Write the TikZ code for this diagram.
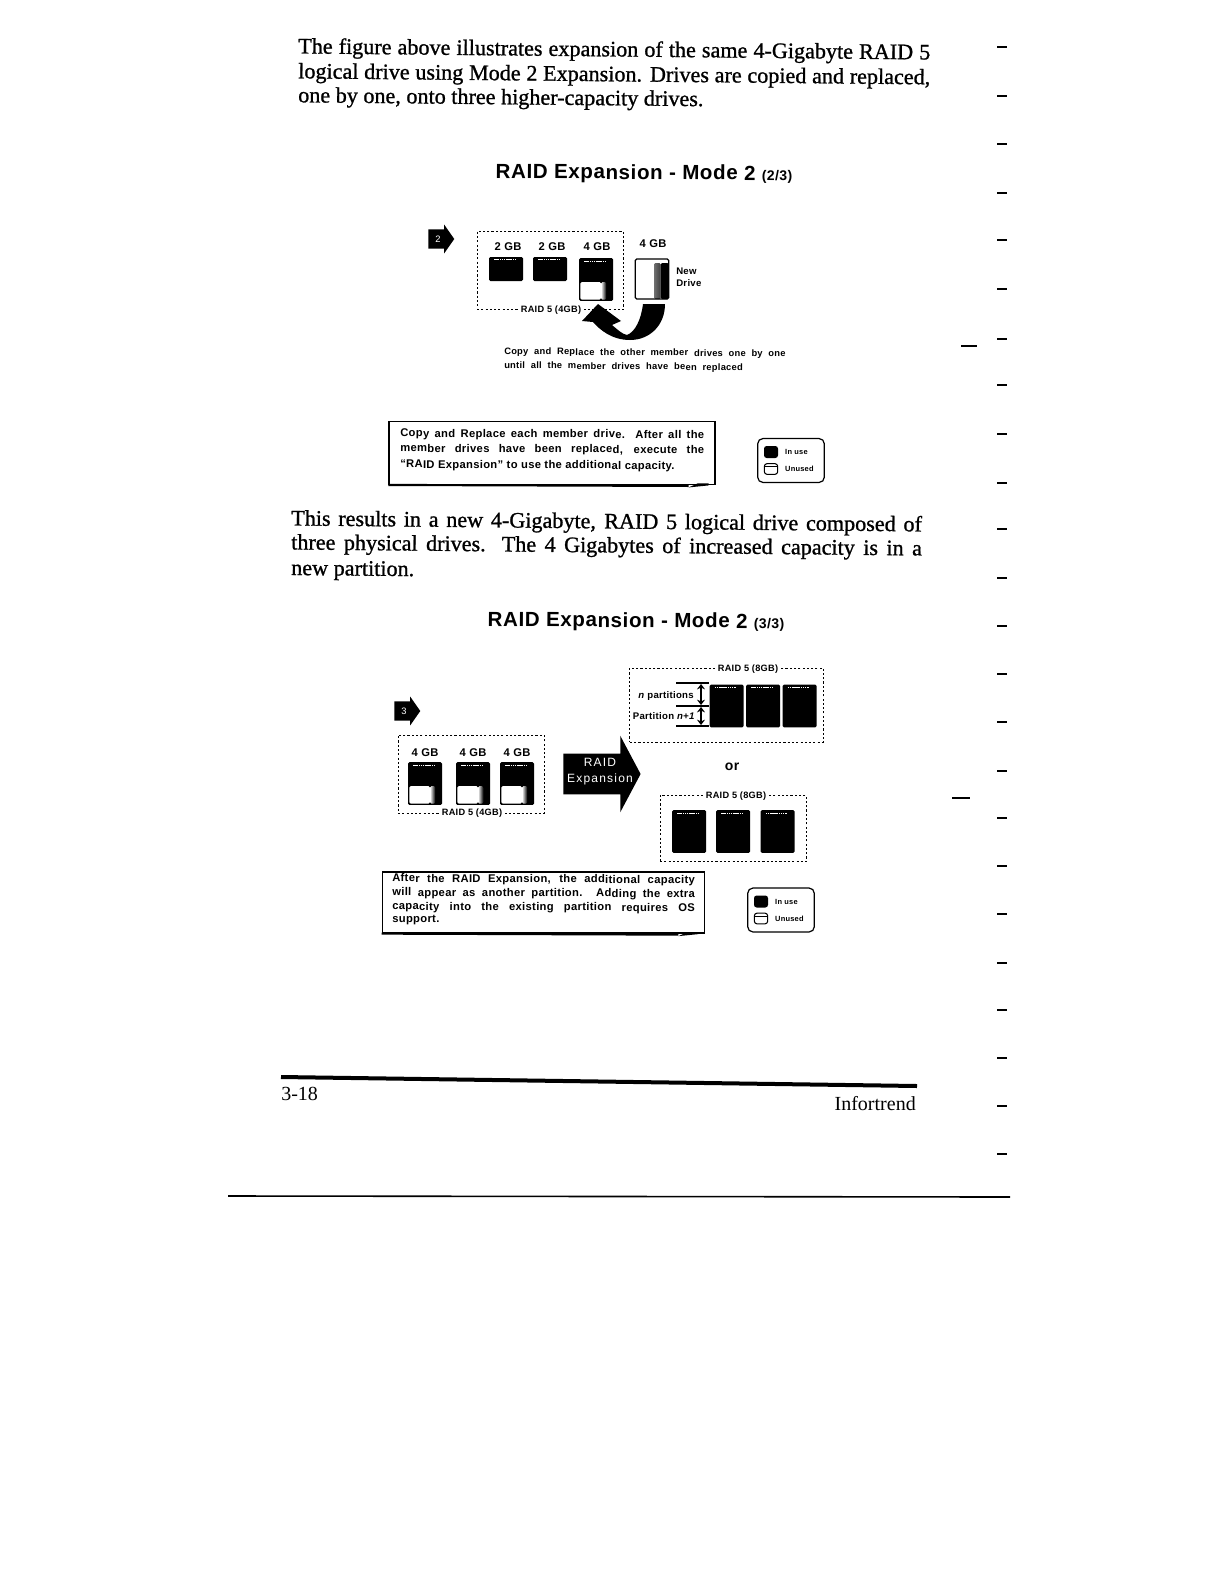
\documentclass[tikz,border=0pt]{standalone}
\usepackage{fontspec}
\setmainfont{Liberation Serif}
\setsansfont[LetterSpace=3]{Liberation Sans}
\newfontfamily\scanfont[FakeBold=1]{Liberation Serif}
\newfontfamily\widefont[LetterSpace=10]{Liberation Sans}
\usetikzlibrary{positioning, arrows.meta, shapes.arrows, calc}

\begin{document}
\begin{tikzpicture}[
    x=0.75pt, y=-0.75pt,
    bodyline/.style={anchor=west, inner sep=0pt, rotate=-0.55, font=\fontsize{16.6}{18}\scanfont},
    title/.style={anchor=center, inner sep=0pt, rotate=-0.4, font=\fontsize{15.4}{16}\sffamily\bfseries},
    foot/.style={inner sep=0pt, font=\fontsize{15}{16}\selectfont},
    raidbox/.style={rectangle, draw=black, line width=0.7pt, dash pattern=on 1.6pt off 1.6pt, inner sep=0pt},
    raidlabel/.style={fill=white, inner sep=2pt, font=\fontsize{6.9}{7}\sffamily\bfseries},
    gblabel/.style={inner sep=0pt, font=\fontsize{8.4}{9}\sffamily\bfseries},
    caption/.style={anchor=west, inner sep=0pt, rotate=-0.5, font=\fontsize{7}{7}\sffamily\bfseries},
    boxline/.style={anchor=west, inner sep=0pt, rotate=-0.3, font=\fontsize{8.4}{8}\sffamily\bfseries},
    callout/.style={rectangle, draw=black, line width=0.9pt, inner sep=0pt},
    legendbox/.style={rectangle, draw=black, line width=0.9pt, rounded corners=4pt, inner sep=0pt, minimum width=50pt, minimum height=33pt},
    legendtext/.style={anchor=west, inner sep=0pt, font=\fontsize{5.6}{6}\sffamily\bfseries},
    disksmall/.style={rectangle, fill=black, rounded corners=1pt, inner sep=0pt, minimum width=25.5pt, minimum height=18pt,
        path picture={\draw[white, line width=0.3pt, dash pattern=on 1pt off 0.4pt] ([xshift=4pt,yshift=-2pt]path picture bounding box.north west) -- ([xshift=-6pt,yshift=-2pt]path picture bounding box.north east);}},
    disktall/.style={disksmall, minimum height=32pt},
    diskhalf/.style={rectangle, fill=black, rounded corners=1pt, inner sep=0pt, minimum width=25.5pt, minimum height=32pt,
        path picture={
            \draw[white, line width=0.3pt, dash pattern=on 1pt off 0.4pt] ([xshift=4pt,yshift=-2pt]path picture bounding box.north west) -- ([xshift=-6pt,yshift=-2pt]path picture bounding box.north east);
            \fill[white] ([xshift=1pt,yshift=1pt]path picture bounding box.south west) rectangle ([xshift=-9pt,yshift=14pt]path picture bounding box.south east);
            \shade[left color=white, right color=black] ([xshift=-9pt,yshift=1pt]path picture bounding box.south east) rectangle ([xshift=-5pt,yshift=14pt]path picture bounding box.south east);}},
    disknew/.style={rectangle, draw=black, line width=0.9pt, fill=white, rounded corners=1pt, inner sep=0pt, minimum width=25pt, minimum height=30pt,
        path picture={
            \shade[left color=white, right color=black] ([xshift=-11pt]path picture bounding box.south east) rectangle ([xshift=-6pt,yshift=-3pt]path picture bounding box.north east);
            \fill[black] ([xshift=-6pt]path picture bounding box.south east) rectangle ([yshift=-3pt]path picture bounding box.north east);}},
    swatchfull/.style={rectangle, fill=black, rounded corners=2pt, inner sep=0pt, minimum width=10.5pt, minimum height=9pt},
    swatchfree/.style={rectangle, draw=black, line width=0.8pt, fill=white, rounded corners=2pt, inner sep=0pt, minimum width=10pt, minimum height=8pt,
        path picture={\draw[black, line width=0.5pt] ([yshift=-2pt]path picture bounding box.north west) -- ([yshift=-2pt]path picture bounding box.north east);}},
    stepflag/.style={single arrow, fill=black, text=white, inner sep=2.6pt, font=\fontsize{7}{8}\sffamily, minimum height=19.5pt, minimum width=21.5pt, single arrow head extend=2.5pt, single arrow tip angle=110, anchor=tail},
    bigarrow/.style={single arrow, fill=black, inner sep=0pt, minimum height=58pt, minimum width=57pt, single arrow head extend=13.5pt, single arrow tip angle=124, anchor=tail},
    bigtext/.style={text=white, align=center, inner sep=0pt, font=\fontsize{9}{12}\widefont},
    arr/.style={{Stealth[length=4pt,width=6pt]}-{Stealth[length=4pt,width=6pt]}, line width=1pt},
    tick/.style={line width=0.9pt},
    mark line/.style={line width=0.8pt, draw=black}
]
    \path[fill=white, use as bounding box] (0,0) rectangle (1224,1584);

    % page text
    \node[bodyline] (para1a) at (298,48) {\makebox[474pt][s]{The figure above illustrates expansion of the same 4-Gigabyte RAID 5}};
    \node[bodyline] (para1b) at (298,73) {\makebox[474pt][s]{logical drive using Mode 2 Expansion. Drives are copied and replaced,}};
    \node[bodyline] (para1c) at (298,97) {one by one, onto three higher-capacity drives.};
    \node[title] (title1) at (644,174) {RAID Expansion - Mode 2 {\fontsize{10.5}{10}\selectfont (2/3)}};

    \node[bodyline] (para2a) at (291,520) {\makebox[473pt][s]{This results in a new 4-Gigabyte, RAID 5 logical drive composed of}};
    \node[bodyline] (para2b) at (291,544) {\makebox[473pt][s]{three physical drives. The 4 Gigabytes of increased capacity is in a}};
    \node[bodyline] (para2c) at (291,570) {new partition.};
    \node[title] (title2) at (636,622) {RAID Expansion - Mode 2 {\fontsize{10.5}{10}\selectfont (3/3)}};

    % step 2
    \node[stepflag] (flag2) at (428,239) {2};
    \node[raidbox, minimum width=109.5pt, minimum height=59pt] (raid2) at (550,270.5) {};
    \node[disksmall] (d1) at (506,269) {};
    \node[disksmall] (d2) at (550,269) {};
    \node[diskhalf] (d3) at (596,279.5) {};
    \node[disknew] (d4) at (652,279) {};
    \node[gblabel] (gb1) at (508,247) {2 GB};
    \node[gblabel] (gb2) at (552,247) {2 GB};
    \node[gblabel] (gb3) at (597,247) {4 GB};
    \node[gblabel] (gb4) at (653,244) {4 GB};
    \node[anchor=west, align=left, inner sep=0pt, font=\fontsize{7.2}{9}\sffamily\bfseries] (newdrive) at (676,277) {New\\Drive};
    \node[raidlabel] (raidname2) at (551,310) {RAID 5 (4GB)};
    \fill[black] (598,304) -- (621,321) -- (612,325) .. controls (618,330) and (622,334) .. (627,335)
        .. controls (635,332) and (641,320) .. (643,304) -- (665,304)
        .. controls (665,325) and (650,340) .. (630,340) .. controls (612,340) and (600,330) .. (593,322) -- (582,321) -- cycle;
    \node[caption] (copy1) at (504,352) {\makebox[211pt][s]{Copy and Replace the other member drives one by one}};
    \node[caption] (copy2) at (504,366) {\makebox[179pt][s]{until all the member drives have been replaced}};

    \node[callout, minimum width=244.5pt, minimum height=47pt] (note2) at (552,453) {};
    \fill[black] ($(note2.south east)+(-27,2.5)$) -- ($(note2.south east)+(-18,-1.5)$) -- ($(note2.south east)+(-7,-1.5)$) -- ($(note2.south east)+(-7,0.5)$) -- cycle;
    \draw[line width=1.6pt] (note2.south west) -- ($(note2.south east)+(-27,1)$);
    \node[boxline] (note2a) at (400,434) {\makebox[228pt][s]{Copy and Replace each member drive. After all the}};
    \node[boxline] (note2b) at (400,449) {\makebox[228pt][s]{member drives have been replaced, execute the}};
    \node[boxline] (note2c) at (400,465) {``RAID Expansion'' to use the additional capacity.};

    % step 3
    \node[stepflag] (flag3) at (394,711) {3};
    \node[raidbox, minimum width=109.5pt, minimum height=58.5pt] (raid3) at (471,774) {};
    \node[diskhalf] (d5) at (425,783.5) {};
    \node[diskhalf] (d6) at (473,783.5) {};
    \node[diskhalf] (d7) at (517,783.5) {};
    \foreach \d in {5,6,7} \node[gblabel, above=3.5pt of d\d] (gbd\d) {4 GB};
    \node[raidlabel] (raidname3) at (472,813) {RAID 5 (4GB)};
    \node[bigarrow] (expand) at (563,774) {\rule{0pt}{30pt}};
    \node[bigtext] (expandtext) at (600,772) {RAID\\Expansion};

    \node[raidbox, minimum width=145pt, minimum height=55.5pt] (raid8a) at (726.5,705) {};
    \node[raidlabel] (raidname8a) at (748,669) {RAID 5 (8GB)};
    \node[disktall] (e1) at (726.5,706) {};
    \node[disktall] (e2) at (763,706) {};
    \node[disktall] (e3) at (799.5,706) {};
    \coordinate (parttop) at (676,683);
    \coordinate (partmid) at (676,706);
    \coordinate (partbot) at (676,726);
    \coordinate (arrtop) at (701,684);
    \coordinate (arrmidu) at (701,705);
    \coordinate (arrmidl) at (701,707);
    \coordinate (arrbot) at (701,725);
    \draw[tick] (parttop) -- (parttop -| e1.west);
    \draw[tick] (partmid) -- (partmid -| e1.west);
    \draw[tick] (partbot) -- (partbot -| e1.west);
    \draw[arr] (arrtop) -- (arrmidu);
    \draw[arr] (arrmidl) -- (arrbot);
    \node[anchor=east, inner sep=0pt, font=\fontsize{7.2}{7}\sffamily\bfseries] (npart) at (694,696) {\textit{n} partitions};
    \node[anchor=east, inner sep=0pt, font=\fontsize{7.2}{7}\sffamily\bfseries] (npartb) at (695,716) {Partition \textit{n+1}};
    \node[inner sep=0pt, font=\fontsize{10.5}{10}\sffamily\bfseries] (ortext) at (732,767) {or};

    \node[raidbox, minimum width=109.5pt, minimum height=50pt] (raid8b) at (733,828.5) {};
    \node[raidlabel] (raidname8b) at (736,796) {RAID 5 (8GB)};
    \node[disktall] (e4) at (689,831.5) {};
    \node[disktall] (e5) at (733,831.5) {};
    \node[disktall] (e6) at (777.5,831.5) {};

    \node[callout, minimum width=242pt, minimum height=45.75pt] (note3) at (543.5,902.5) {};
    \fill[black] ($(note3.south east)+(-27,2.5)$) -- ($(note3.south east)+(-18,-1.5)$) -- ($(note3.south east)+(-7,-1.5)$) -- ($(note3.south east)+(-7,0.5)$) -- cycle;
    \draw[line width=1.6pt] (note3.south west) -- ($(note3.south east)+(-27,1)$);
    \node[boxline] (note3a) at (392,879) {\makebox[227pt][s]{After the RAID Expansion, the additional capacity}};
    \node[boxline] (note3b) at (392,893) {\makebox[227pt][s]{will appear as another partition. Adding the extra}};
    \node[boxline] (note3c) at (392,907) {\makebox[227pt][s]{capacity into the existing partition requires OS}};
    \node[boxline] (note3d) at (392,920) {support.};

    % legends
    \foreach \n/\lx/\ly in {a/791/460.5, b/781/910}{
        \node[legendbox] (legend\n) at (\lx,\ly) {};
        \node[swatchfull] (used\n) at (\lx-20,\ly-8.5) {};
        \node[swatchfree] (free\n) at (\lx-20,\ly+8.5) {};
        \node[legendtext, right=5pt of used\n] {In use};
        \node[legendtext, right=5pt of free\n] {Unused};
    }

    % footer
    \draw[line width=3pt] (281,1077) -- (917,1086);
    \draw[line width=1.2pt] (228,1196) -- (1010,1197);
    \node[foot, anchor=west] (pageno) at (281,1094) {3-18};
    \node[foot, anchor=east] (vendor) at (916,1104) {Infortrend};

    % margin marks
    \foreach \my in {47,96,144,193,240,289,339,385,434,483,529,578,626,674,722,771,818,866,914,963,1010,1058,1106,1154}
        \draw[mark line] (997,\my) -- (1007,\my);
    \draw[mark line] (961,346) -- (977,346);
    \draw[mark line] (952,798) -- (970,798);
\end{tikzpicture}
\end{document}
